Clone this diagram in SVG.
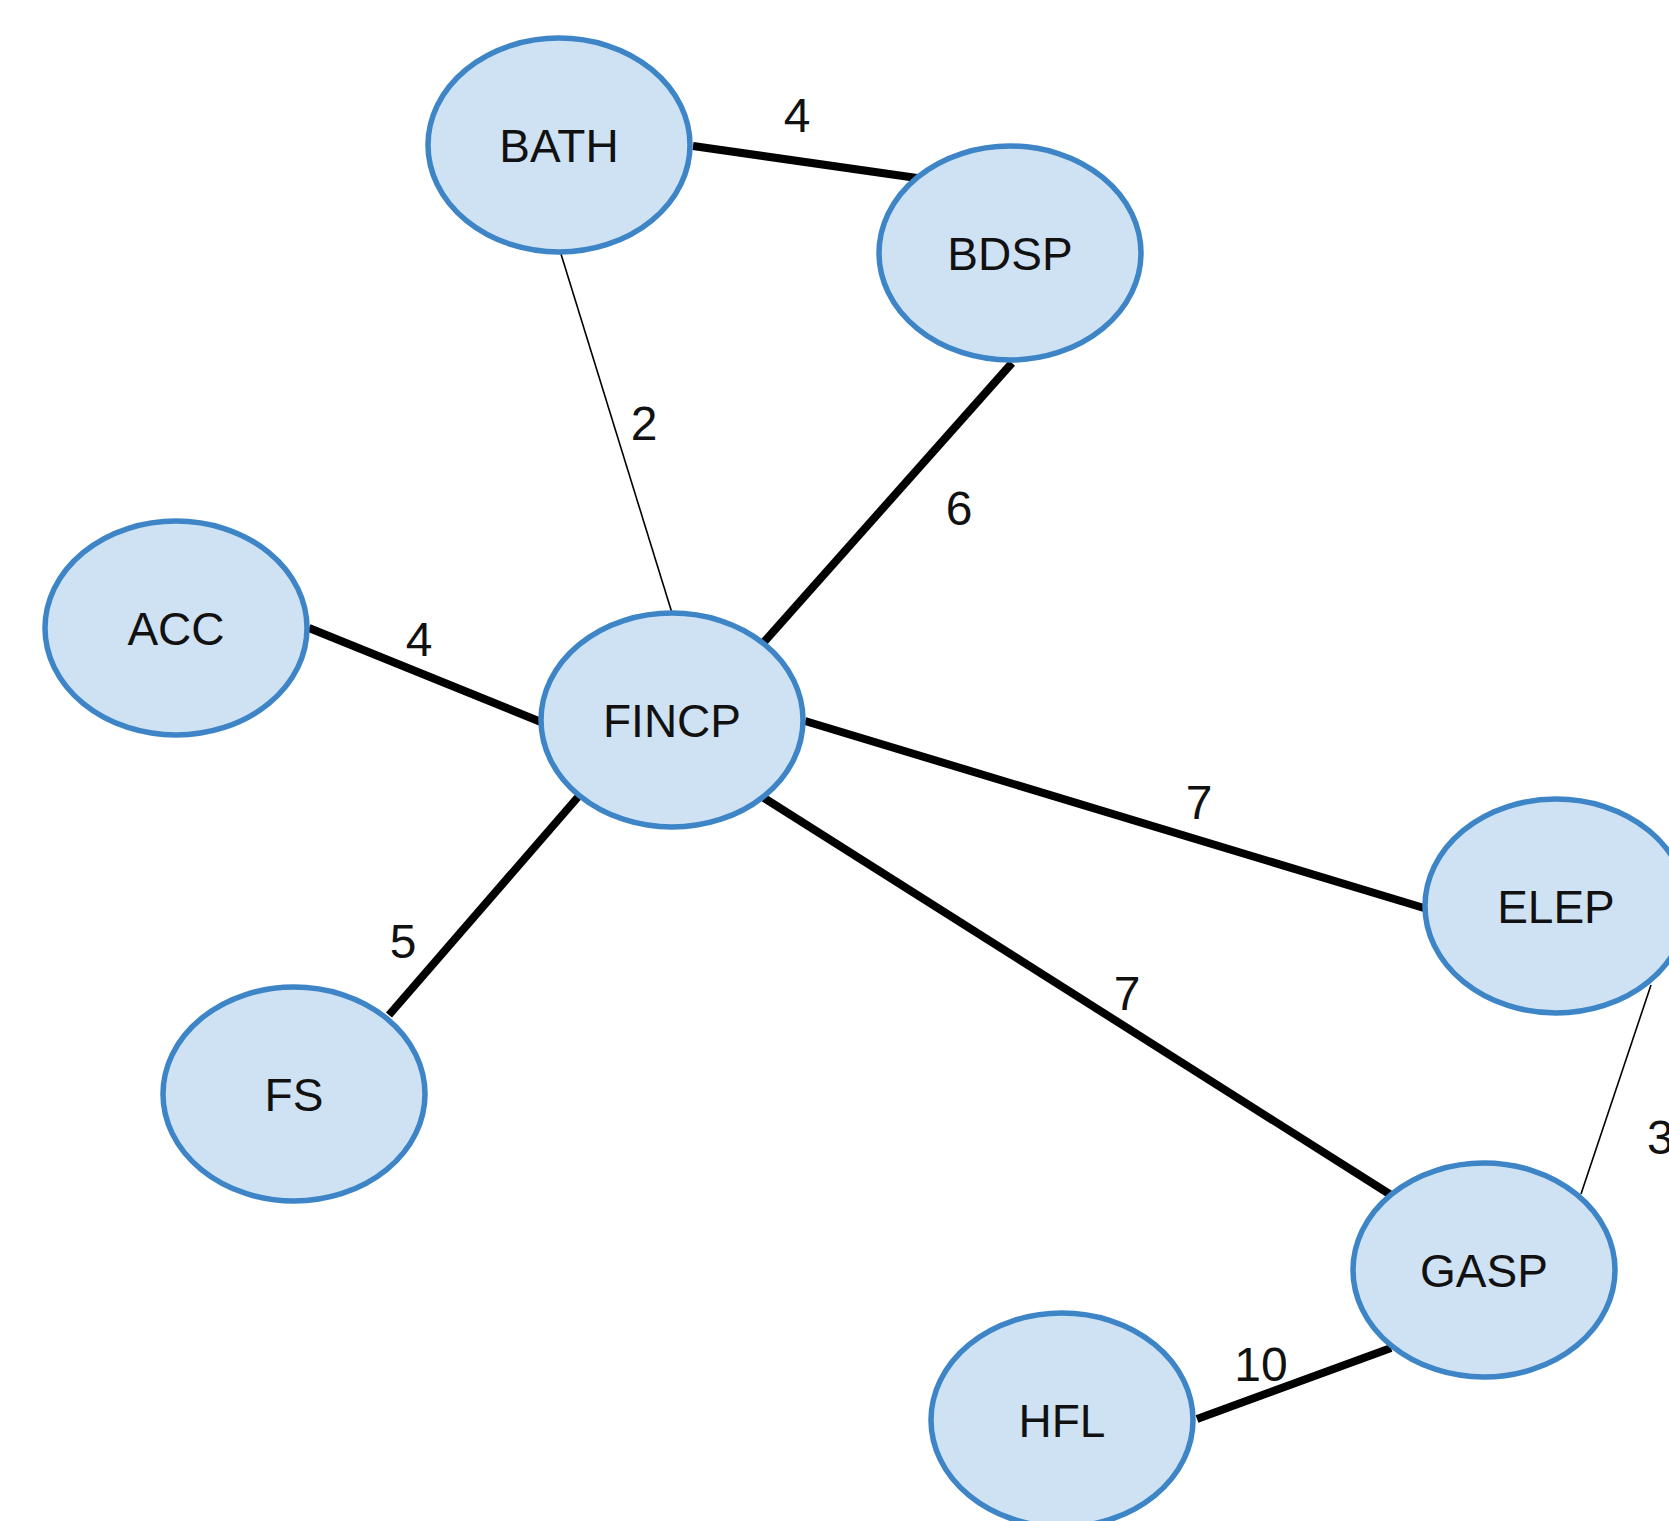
<svg xmlns="http://www.w3.org/2000/svg" width="1669" height="1521" viewBox="0 0 1669 1521">
<style>
.node ellipse { fill: #cfe2f3; stroke: #3d85c6; stroke-width: 5.5; }
.node text { font-family: "Liberation Sans", Arial, sans-serif; font-size: 46px; fill: #111; text-anchor: middle; }
.edge { stroke: #000; stroke-linecap: butt; fill: none; }
.thick { stroke-width: 8; }
.thin { stroke-width: 1.6; }
.lbl { font-family: "Liberation Sans", Arial, sans-serif; font-size: 48px; fill: #111; text-anchor: middle; }
</style>
<rect x="0" y="0" width="1669" height="1521" fill="#ffffff"/>
<g id="connectors">
  <line class="edge thick" x1="693" y1="146" x2="917" y2="178"/>
  <line class="edge thin" x1="561" y1="254" x2="672" y2="613"/>
  <line class="edge thick" x1="1012" y1="363" x2="764" y2="642"/>
  <line class="edge thick" x1="309" y1="628" x2="541" y2="722"/>
  <line class="edge thick" x1="389" y1="1015" x2="578" y2="797"/>
  <line class="edge thick" x1="805" y1="721" x2="1424" y2="908"/>
  <line class="edge thick" x1="764" y1="798" x2="1391" y2="1195"/>
  <line class="edge thin" x1="1651" y1="985" x2="1581" y2="1194"/>
  <line class="edge thick" x1="1197" y1="1419" x2="1391" y2="1348"/>
  <text class="lbl" x="797" y="132">4</text>
  <text class="lbl" x="644" y="440">2</text>
  <text class="lbl" x="959" y="525">6</text>
  <text class="lbl" x="419" y="656">4</text>
  <text class="lbl" x="403" y="958">5</text>
  <text class="lbl" x="1199" y="819">7</text>
  <text class="lbl" x="1127" y="1010">7</text>
  <text class="lbl" x="1647" y="1154" style="text-anchor:start">3</text>
  <text class="lbl" x="1261" y="1381">10</text>
</g>
<g id="node-BATH" class="node"><ellipse cx="559" cy="145" rx="131" ry="107"/><text x="559" y="162">BATH</text></g>
<g id="node-BDSP" class="node"><ellipse cx="1010" cy="253" rx="131" ry="107"/><text x="1010" y="270">BDSP</text></g>
<g id="node-ACC" class="node"><ellipse cx="176" cy="628" rx="131" ry="107"/><text x="176" y="645">ACC</text></g>
<g id="node-FINCP" class="node"><ellipse cx="672" cy="720" rx="131" ry="107"/><text x="672" y="737">FINCP</text></g>
<g id="node-FS" class="node"><ellipse cx="294" cy="1094" rx="131" ry="107"/><text x="294" y="1111">FS</text></g>
<g id="node-ELEP" class="node"><ellipse cx="1556" cy="906" rx="131" ry="107"/><text x="1556" y="923">ELEP</text></g>
<g id="node-GASP" class="node"><ellipse cx="1484" cy="1270" rx="131" ry="107"/><text x="1484" y="1287">GASP</text></g>
<g id="node-HFL" class="node"><ellipse cx="1062" cy="1420" rx="131" ry="107"/><text x="1062" y="1437">HFL</text></g>
</svg>
